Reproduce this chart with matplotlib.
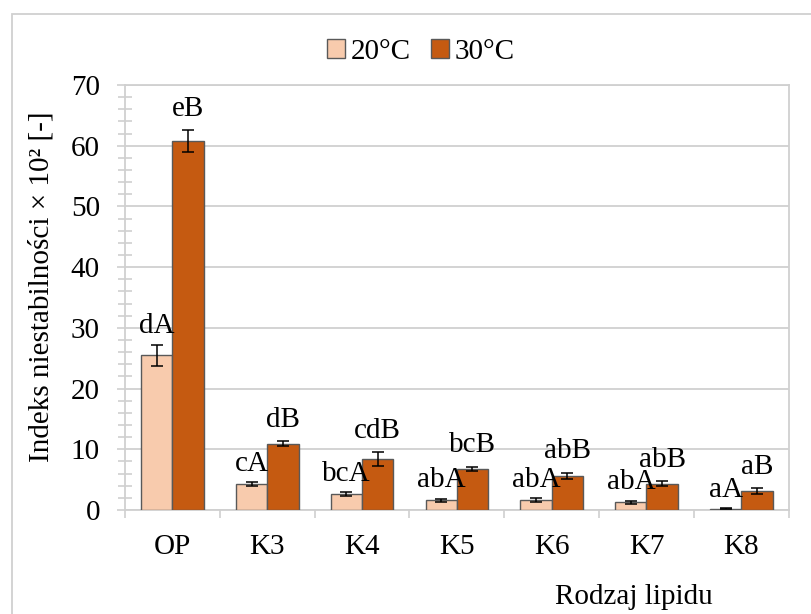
import numpy as np
import matplotlib.pyplot as plt
from matplotlib.patches import Rectangle
from matplotlib.ticker import MultipleLocator, FixedLocator, NullFormatter

plt.rcParams['font.family'] = ['Liberation Serif', 'DejaVu Serif']

# instability index (x 10^2) per lipid type at two temperatures
lipids = ['OP', 'K3', 'K4', 'K5', 'K6', 'K7', 'K8']
temps = ['20°C', '30°C']
vals_20 = [25.5, 4.3, 2.6, 1.6, 1.65, 1.3, 0.2]
vals_30 = [60.8, 10.9, 8.35, 6.8, 5.6, 4.35, 3.1]
err_20 = [1.7, 0.3, 0.3, 0.25, 0.3, 0.25, 0.1]
err_30 = [1.8, 0.4, 1.15, 0.35, 0.55, 0.45, 0.45]
labels_20 = ['dA', 'cA', 'bcA', 'abA', 'abA', 'abA', 'aA']
labels_30 = ['eB', 'dB', 'cdB', 'bcB', 'abB', 'abB', 'aB']

c20 = '#F8CBAD'
c30 = '#C55A11'
edge = '#595959'
grey = '#D0D0D0'
fs = 21

fig = plt.figure(figsize=(8.12, 6.14), dpi=100)
ax = fig.add_axes([125 / 812, 1 - 510 / 614, 663.7 / 812, 425 / 614])

# outer chart border
fig.patches.append(Rectangle((12 / 812, -0.1), 1.2, 1 - 13.5 / 614 + 0.1,
                             transform=fig.transFigure, fill=False,
                             edgecolor=grey, linewidth=1.3))

x = np.arange(len(lipids))
w = 0.33
ax.bar(x - w / 2, vals_20, w, color=c20, edgecolor=edge, linewidth=1.0,
       label=temps[0], zorder=3)
ax.bar(x + w / 2, vals_30, w, color=c30, edgecolor=edge, linewidth=1.0,
       label=temps[1], zorder=3)
ax.errorbar(x - w / 2, vals_20, yerr=err_20, fmt='none', ecolor='black',
            elinewidth=1.1, capsize=4.5, capthick=1.1, zorder=4)
ax.errorbar(x + w / 2, vals_30, yerr=err_30, fmt='none', ecolor='black',
            elinewidth=1.1, capsize=4.5, capthick=1.1, zorder=4)

for xi, v, e, t in zip(x - w / 2, vals_20, err_20, labels_20):
    ax.annotate(t, (xi, v + e), xytext=(0, 4), textcoords='offset points',
                ha='center', va='bottom', fontsize=fs)
for xi, v, e, t in zip(x + w / 2, vals_30, err_30, labels_30):
    ax.annotate(t, (xi, v + e), xytext=(0, 6), textcoords='offset points',
                ha='center', va='bottom', fontsize=fs)

ax.set_xlim(-0.5, len(lipids) - 0.5)
ax.set_ylim(0, 70)
ax.yaxis.set_major_locator(MultipleLocator(10))
ax.yaxis.set_minor_locator(MultipleLocator(2))
ax.grid(axis='y', color=grey, linewidth=1.3, zorder=0)
ax.set_axisbelow(True)

# category labels centred, tick marks between categories
ax.xaxis.set_major_locator(FixedLocator(np.arange(-0.5, len(lipids), 1.0)))
ax.xaxis.set_major_formatter(NullFormatter())
ax.xaxis.set_minor_locator(FixedLocator(x))
ax.set_xticklabels(lipids, minor=True)
ax.tick_params(axis='x', which='major', length=6, width=1.2, color=grey)
ax.tick_params(axis='x', which='minor', length=0, pad=17, labelsize=fs)
ax.tick_params(axis='y', which='major', length=6, width=1.2, color=grey,
               pad=12, labelsize=fs)
ax.tick_params(axis='y', which='minor', direction='inout', length=10,
               width=1.2, color=grey)

for s in ax.spines.values():
    s.set_color(grey)
    s.set_linewidth(1.3)

fig.text(42 / 812, 1 - 287 / 614, 'Indeks niestabilności × 10² [-]',
         rotation=90, ha='center', va='center', fontsize=fs)
fig.text(634 / 812, 1 - 597 / 614, 'Rodzaj lipidu',
         ha='center', va='center', fontsize=fs)

fig.legend(loc='center', bbox_to_anchor=(421 / 812, 1 - 52 / 614), ncol=2,
           frameon=False, fontsize=fs, handlelength=0.6, handleheight=0.6,
           handletextpad=0.2, columnspacing=0.7)

fig.savefig('out.png', dpi=100)
